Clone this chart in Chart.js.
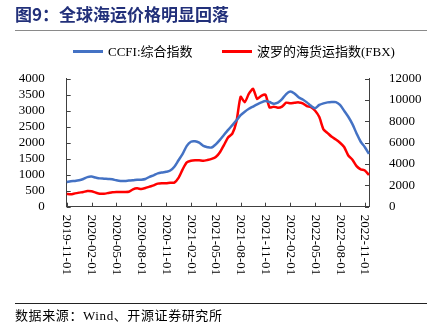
<!DOCTYPE html>
<html><head><meta charset="utf-8">
<script src="https://cdn.jsdelivr.net/npm/chart.js@4"></script>
<style>
html,body{margin:0;padding:0;background:#fff;}
#wrap{position:relative;width:436px;height:332px;overflow:hidden;background:#fff;}
canvas{position:absolute;left:0;top:0;}
.title{position:absolute;left:15px;top:3px;font-weight:bold;font-size:17px;line-height:22px;font-family:"Noto Sans CJK SC";color:#22307A;white-space:nowrap;}
.hr1{position:absolute;left:15px;top:30px;width:412px;height:1px;background:#8a8a8a;}
.hr2{position:absolute;left:15px;top:303px;width:412px;height:1px;background:#222;}
.lg{position:absolute;top:44px;font-size:13px;line-height:16px;font-family:"Liberation Serif","Noto Sans CJK SC";color:#000;white-space:nowrap;}
.sw{position:absolute;top:50px;width:30px;height:3px;}
.src{position:absolute;left:15px;top:308px;font-size:13px;line-height:16px;font-family:"Liberation Serif","Noto Sans CJK SC";color:#000;white-space:nowrap;letter-spacing:0.6px;}
</style></head>
<body>
<div id="wrap">
<canvas id="c" width="436" height="332"></canvas>
<div class="title">图9：全球海运价格明显回落</div>
<div class="hr1"></div>
<div class="sw" style="left:73px;background:#4472C4;"></div>
<div class="lg" style="left:108px;">CCFI:综合指数</div>
<div class="sw" style="left:222px;background:#FF0000;"></div>
<div class="lg" style="left:257px;">波罗的海货运指数(FBX)</div>
<div class="hr2"></div>
<div class="src">数据来源：Wind、开源证券研究所</div>
</div>
<script>
const dates = [
 '2019-11-01','2019-11-16','2019-12-01','2019-12-16',
 '2020-01-01','2020-01-16','2020-02-01','2020-02-16','2020-03-01','2020-03-16','2020-04-01','2020-04-16',
 '2020-05-01','2020-05-16','2020-06-01','2020-06-16','2020-07-01','2020-07-16','2020-08-01','2020-08-16',
 '2020-09-01','2020-09-16','2020-10-01','2020-10-16','2020-11-01','2020-11-16','2020-12-01','2020-12-16',
 '2021-01-01','2021-01-16','2021-02-01','2021-02-16','2021-03-01','2021-03-16','2021-04-01','2021-04-16',
 '2021-05-01','2021-05-16','2021-06-01','2021-06-16','2021-07-01','2021-07-16','2021-08-01','2021-08-16',
 '2021-09-01','2021-09-16','2021-10-01','2021-10-16','2021-11-01','2021-11-16','2021-12-01','2021-12-16',
 '2022-01-01','2022-01-16','2022-02-01','2022-02-16','2022-03-01','2022-03-16','2022-04-01','2022-04-16',
 '2022-05-01','2022-05-16','2022-06-01','2022-06-16','2022-07-01','2022-07-16','2022-08-01','2022-08-16',
 '2022-09-01','2022-09-16','2022-10-01','2022-10-16','2022-11-01','2022-11-16'
];
const ccfi = [
 770,795,805,825,865,925,940,910,885,875,
 865,855,825,805,805,815,825,845,845,865,
 935,980,1040,1070,1090,1130,1250,1450,1650,1900,
 2030,2045,2000,1900,1860,1850,1950,2090,2250,2400,
 2550,2700,2860,2970,3060,3130,3200,3260,3300,3270,
 3220,3250,3360,3520,3600,3540,3420,3350,3260,3150,
 3080,3180,3230,3260,3270,3270,3180,3000,2810,2580,
 2290,2030,1860,1650
];
const fbx = [
 1190,1160,1250,1320,1380,1470,1440,1320,1220,1220,
 1280,1350,1380,1380,1380,1400,1630,1720,1660,1750,
 1880,2000,2160,2190,2190,2250,2260,2700,3500,4150,
 4300,4350,4350,4300,4380,4480,4650,5100,5800,6500,
 6850,8000,10300,9800,10600,11050,10100,10400,10500,9300,
 9380,9280,9380,9750,9700,9750,9780,9690,9440,9320,
 9000,8400,7250,6900,6550,6300,6000,5600,4800,4400,
 3800,3500,3400,2970
];
const xTickLabels = ['2019-11-01','2020-02-01','2020-05-01','2020-08-01','2020-11-01','2021-02-01','2021-05-01','2021-08-01','2021-11-01','2022-02-01','2022-05-01','2022-08-01','2022-11-01'];
const seriesNames = ['CCFI:综合指数','波罗的海货运指数(FBX)'];

const axisColor = '#404040';
const tickFont = {family:'Liberation Serif', size:13, lineHeight:0.85};

const axisDeco = {
  id:'axisDeco',
  afterDraw(chart){
    const {ctx, chartArea:a, scales} = chart;
    const x = scales.x, y = scales.y, y1 = scales.y1;
    ctx.save();
    ctx.strokeStyle = axisColor; ctx.lineWidth = 1;
    ctx.beginPath();
    y.ticks.forEach((t,i)=>{const py=Math.round(y.getPixelForTick(i))+0.5; ctx.moveTo(a.left,py); ctx.lineTo(a.left+4,py);});
    y1.ticks.forEach((t,i)=>{const py=Math.round(y1.getPixelForTick(i))+0.5; ctx.moveTo(a.right,py); ctx.lineTo(a.right-4,py);});
    xTickLabels.forEach(l=>{const px=Math.round(x.getPixelForValue(dates.indexOf(l)))+0.5; ctx.moveTo(px,a.bottom); ctx.lineTo(px,a.bottom-4);});
    ctx.stroke();
    ctx.fillStyle = '#000';
    ctx.font = '13px "Liberation Serif"';
    ctx.textAlign = 'left'; ctx.textBaseline = 'middle';
    xTickLabels.forEach(l=>{
      const px = x.getPixelForValue(dates.indexOf(l));
      ctx.save(); ctx.translate(px, a.bottom+8); ctx.rotate(Math.PI/2); ctx.fillText(l,0,0); ctx.restore();
    });
    ctx.restore();
  }
};

new Chart(document.getElementById('c'), {
  type:'line',
  data:{labels:dates, datasets:[
    {label:seriesNames[0], data:ccfi, yAxisID:'y', borderColor:'#4472C4', backgroundColor:'#4472C4', borderWidth:2.5, pointRadius:0, tension:0.3},
    {label:seriesNames[1], data:fbx, yAxisID:'y1', borderColor:'#FF0000', backgroundColor:'#FF0000', borderWidth:2.5, pointRadius:0, tension:0.2}
  ]},
  options:{
    responsive:false, animation:false, devicePixelRatio:1,
    layout:{padding:{top:78.7,left:0,right:0,bottom:0}},
    plugins:{legend:{display:false}, tooltip:{enabled:false}},
    scales:{
      x:{type:'category', offset:false, grid:{display:false}, border:{display:true,color:axisColor,width:1}, ticks:{display:false}, afterFit(s){s.height=125.3;}},
      y:{position:'left', min:0, max:4000, ticks:{stepSize:500, autoSkip:false, maxTicksLimit:20, padding:14, color:'#000', font:tickFont, callback:v=>String(v)}, grid:{display:false}, border:{display:true,color:axisColor,width:1}, afterFit(s){s.width=66.7;}},
      y1:{position:'right', min:0, max:12000, ticks:{stepSize:2000, autoSkip:false, maxTicksLimit:20, padding:12, color:'#000', font:tickFont, callback:v=>String(v)}, grid:{display:false}, border:{display:true,color:axisColor,width:1}, afterFit(s){s.width=67;}}
    }
  },
  plugins:[axisDeco]
});
</script>
</body></html>
